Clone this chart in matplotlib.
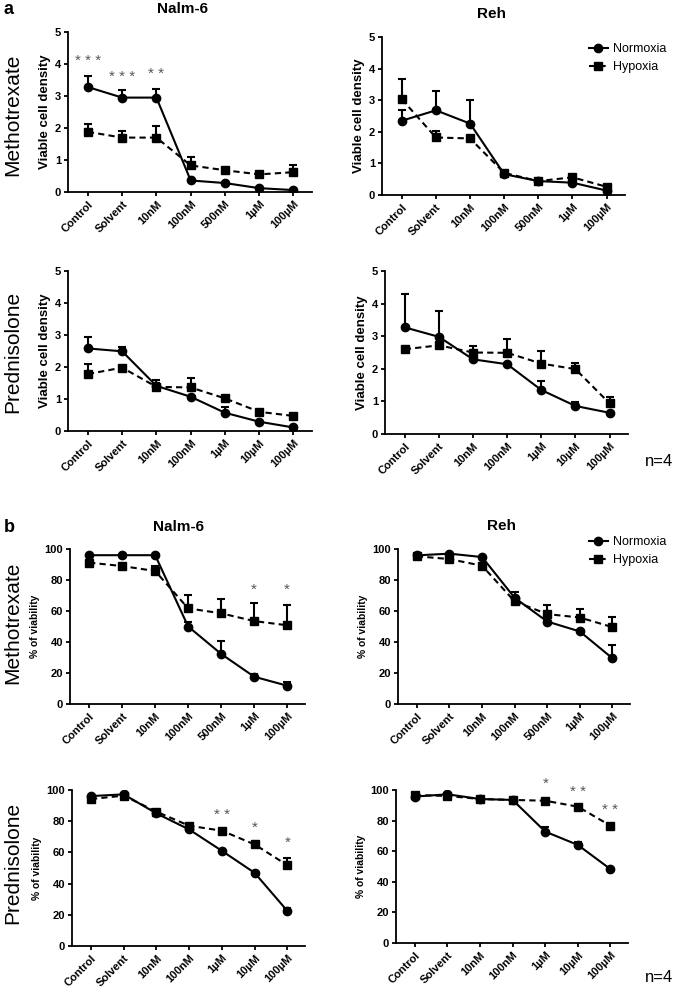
import numpy as np
import matplotlib
matplotlib.use("Agg")
import matplotlib.pyplot as plt
from matplotlib.lines import Line2D

plt.rcParams['font.family'] = ['Liberation Sans', 'DejaVu Sans']

MTX_LABELS = ['Control', 'Solvent', '10nM', '100nM', '500nM', '1µM', '100µM']
PRED_LABELS = ['Control', 'Solvent', '10nM', '100nM', '1µM', '10µM', '100µM']

# ---- panel a: viable cell density ----
a_nalm_mtx_norm = [3.28, 2.95, 2.95, 0.36, 0.28, 0.12, 0.06]
a_nalm_mtx_norm_err = [0.33, 0.23, 0.28, 0.0, 0.0, 0.0, 0.0]
a_nalm_mtx_hyp = [1.88, 1.70, 1.70, 0.83, 0.68, 0.55, 0.62]
a_nalm_mtx_hyp_err = [0.26, 0.20, 0.35, 0.26, 0.05, 0.0, 0.21]
a_nalm_mtx_stars = ['* * *', '* * *', '* *', '', '', '', '']
a_nalm_mtx_star_y = [4.1, 3.6, 3.68, 0, 0, 0, 0]

a_reh_mtx_norm = [2.35, 2.68, 2.26, 0.66, 0.44, 0.39, 0.14]
a_reh_mtx_norm_err = [0.35, 0.60, 0.76, 0.0, 0.0, 0.0, 0.0]
a_reh_mtx_hyp = [3.03, 1.82, 1.79, 0.70, 0.44, 0.56, 0.26]
a_reh_mtx_hyp_err = [0.63, 0.21, 0.0, 0.03, 0.0, 0.06, 0.02]

a_nalm_pred_norm = [2.58, 2.49, 1.41, 1.07, 0.57, 0.29, 0.11]
a_nalm_pred_norm_err = [0.36, 0.14, 0.08, 0.0, 0.19, 0.0, 0.0]
a_nalm_pred_hyp = [1.78, 1.98, 1.38, 1.36, 1.02, 0.60, 0.47]
a_nalm_pred_hyp_err = [0.31, 0.0, 0.21, 0.31, 0.0, 0.0, 0.0]

a_reh_pred_norm = [3.27, 2.98, 2.29, 2.14, 1.35, 0.86, 0.65]
a_reh_pred_norm_err = [1.02, 0.80, 0.0, 0.0, 0.28, 0.13, 0.0]
a_reh_pred_hyp = [2.60, 2.72, 2.50, 2.49, 2.16, 1.99, 0.94]
a_reh_pred_hyp_err = [0.0, 0.0, 0.19, 0.42, 0.39, 0.19, 0.20]

# ---- panel b: % of viability ----
b_nalm_mtx_norm = [96, 96, 96, 50, 32.3, 17.6, 11.8]
b_nalm_mtx_norm_err = [0, 0, 0, 3, 8.3, 1.5, 2.2]
b_nalm_mtx_hyp = [91.2, 89, 85.8, 61.7, 58.5, 53.5, 50.8]
b_nalm_mtx_hyp_err = [0, 0, 3.2, 8.6, 9.0, 11.5, 13.1]
b_nalm_mtx_stars = ['', '', '', '', '', '*', '*']
b_nalm_mtx_star_y = [0, 0, 0, 0, 0, 74, 74]

b_reh_mtx_norm = [95.9, 97, 94.8, 68.5, 53.2, 46.8, 29.5]
b_reh_mtx_norm_err = [0, 0, 0, 3.5, 0, 0, 8.5]
b_reh_mtx_hyp = [95.3, 93.5, 89.2, 66.2, 58, 55.8, 49.6]
b_reh_mtx_hyp_err = [0, 0, 0, 0, 6, 5.4, 6.4]

b_nalm_pred_norm = [96.1, 97.2, 85, 74.7, 61, 46.9, 22.5]
b_nalm_pred_norm_err = [0, 0, 0, 0, 0, 0, 2.1]
b_nalm_pred_hyp = [94.2, 96.4, 86.1, 77.1, 73.9, 65.1, 51.8]
b_nalm_pred_hyp_err = [0, 0, 0, 0, 0, 1.1, 4.7]
b_nalm_pred_stars = ['', '', '', '', '* *', '*', '*']
b_nalm_pred_star_y = [0, 0, 0, 0, 84, 76, 66]

b_reh_pred_norm = [95.7, 97.2, 94.1, 93.5, 72.8, 64.1, 48.3]
b_reh_pred_norm_err = [0, 0, 0, 0, 2.9, 1.6, 0]
b_reh_pred_hyp = [96.7, 96.1, 94.1, 93.5, 93, 89.1, 76.7]
b_reh_pred_hyp_err = [0, 0, 0, 0, 0, 0, 0]
b_reh_pred_stars = ['', '', '', '', '*', '* *', '* *']
b_reh_pred_star_y = [0, 0, 0, 0, 104, 99, 87]

W, H = 679, 992
fig = plt.figure(figsize=(W / 100, H / 100), dpi=100)


def px_axes(x0, y0, x1, y1):
    # axes from pixel box (top-left origin)
    return fig.add_axes([x0 / W, 1 - y1 / H, (x1 - x0) / W, (y1 - y0) / H])


def draw_panel(ax, labels, norm, norm_err, hyp, hyp_err, ymax, ystep, ylabel, ylsize,
               stars=None, star_y=None):
    x = np.arange(len(labels))
    lw = 1.5
    zeros = np.zeros(len(x))
    ax.errorbar(x, hyp, yerr=[zeros, hyp_err], color='black', lw=lw, ls=(0, (3, 2)),
                marker='s', ms=6, capsize=3, capthick=lw, elinewidth=lw)
    ax.errorbar(x, norm, yerr=[zeros, norm_err], color='black', lw=lw, ls='-',
                marker='o', ms=6, capsize=3, capthick=lw, elinewidth=lw)
    ax.set_xlim(-0.58, 6.54)
    ax.set_ylim(0, ymax)
    ax.set_yticks(np.arange(0, ymax + ystep / 2, ystep))
    ax.set_xticks(x)
    ax.set_xticklabels(labels, rotation=45, ha='right', rotation_mode='anchor',
                       fontsize=8, fontweight='bold')
    for t in ax.get_yticklabels():
        t.set_fontweight('bold')
        t.set_fontsize(8)
    ax.set_ylabel(ylabel, fontsize=ylsize, fontweight='bold', labelpad=3)
    for s in ['top', 'right']:
        ax.spines[s].set_visible(False)
    for s in ['left', 'bottom']:
        ax.spines[s].set_linewidth(1.3)
    ax.tick_params(width=1.3, length=3, pad=2)
    if stars:
        for xi, st, sy in zip(x, stars, star_y):
            if st:
                ax.text(xi, sy, st, ha='center', va='center', fontsize=11,
                        color='#555555', clip_on=False)


ax1 = px_axes(68, 32, 312, 192)
draw_panel(ax1, MTX_LABELS, a_nalm_mtx_norm, a_nalm_mtx_norm_err, a_nalm_mtx_hyp,
           a_nalm_mtx_hyp_err, 5, 1, 'Viable cell density', 9.5,
           a_nalm_mtx_stars, a_nalm_mtx_star_y)
ax2 = px_axes(382, 37, 625, 195)
draw_panel(ax2, MTX_LABELS, a_reh_mtx_norm, a_reh_mtx_norm_err, a_reh_mtx_hyp,
           a_reh_mtx_hyp_err, 5, 1, 'Viable cell density', 9.5)
ax3 = px_axes(68, 271, 312, 431)
draw_panel(ax3, PRED_LABELS, a_nalm_pred_norm, a_nalm_pred_norm_err, a_nalm_pred_hyp,
           a_nalm_pred_hyp_err, 5, 1, 'Viable cell density', 9.5)
ax4 = px_axes(385, 271, 628, 434)
draw_panel(ax4, PRED_LABELS, a_reh_pred_norm, a_reh_pred_norm_err, a_reh_pred_hyp,
           a_reh_pred_hyp_err, 5, 1, 'Viable cell density', 9.5)

ax5 = px_axes(70, 549, 305, 704)
draw_panel(ax5, MTX_LABELS, b_nalm_mtx_norm, b_nalm_mtx_norm_err, b_nalm_mtx_hyp,
           b_nalm_mtx_hyp_err, 100, 20, '% of viability', 7.4,
           b_nalm_mtx_stars, b_nalm_mtx_star_y)
ax6 = px_axes(398, 549, 630, 704)
draw_panel(ax6, MTX_LABELS, b_reh_mtx_norm, b_reh_mtx_norm_err, b_reh_mtx_hyp,
           b_reh_mtx_hyp_err, 100, 20, '% of viability', 7.4)
ax7 = px_axes(72, 790, 305, 946)
draw_panel(ax7, PRED_LABELS, b_nalm_pred_norm, b_nalm_pred_norm_err, b_nalm_pred_hyp,
           b_nalm_pred_hyp_err, 100, 20, '% of viability', 7.4,
           b_nalm_pred_stars, b_nalm_pred_star_y)
ax8 = px_axes(396, 790, 628, 943)
draw_panel(ax8, PRED_LABELS, b_reh_pred_norm, b_reh_pred_norm_err, b_reh_pred_hyp,
           b_reh_pred_hyp_err, 100, 20, '% of viability', 7.4,
           b_reh_pred_stars, b_reh_pred_star_y)


def ftext(xp, yp, s, **kw):
    fig.text(xp / W, 1 - yp / H, s, **kw)


ftext(8, 9, 'a', fontsize=13, fontweight='bold', ha='center', va='center')
ftext(182, 9, 'Nalm-6', fontsize=11, fontweight='bold', ha='center', va='center')
ftext(492, 14, 'Reh', fontsize=11, fontweight='bold', ha='center', va='center')
ftext(9, 527, 'b', fontsize=13, fontweight='bold', ha='center', va='center')
ftext(178, 527, 'Nalm-6', fontsize=11, fontweight='bold', ha='center', va='center')
ftext(501, 526, 'Reh', fontsize=11, fontweight='bold', ha='center', va='center')

for yp, s in [(115, 'Methotrexate'), (352, 'Prednisolone'),
              (623, 'Methotrexate'), (863, 'Prednisolone')]:
    ftext(13, yp, s, fontsize=15, rotation=90, ha='center', va='center')

ftext(659, 462, 'n=4', fontsize=12, ha='center', va='center')
ftext(659, 978, 'n=4', fontsize=12, ha='center', va='center')

handles = [Line2D([], [], color='black', lw=1.5, marker='o', ms=6, label='Normoxia'),
           Line2D([], [], color='black', lw=1.5, ls=(0, (3, 2)), marker='s', ms=6,
                  label='Hypoxia')]
for yp in [43, 536]:
    fig.legend(handles=handles, loc='upper left', bbox_to_anchor=(589 / W, 1 - yp / H),
               frameon=False, fontsize=9, handlelength=1.5, handletextpad=0.4,
               labelspacing=0.5, borderpad=0, borderaxespad=0)

fig.savefig('out.png', dpi=100)
